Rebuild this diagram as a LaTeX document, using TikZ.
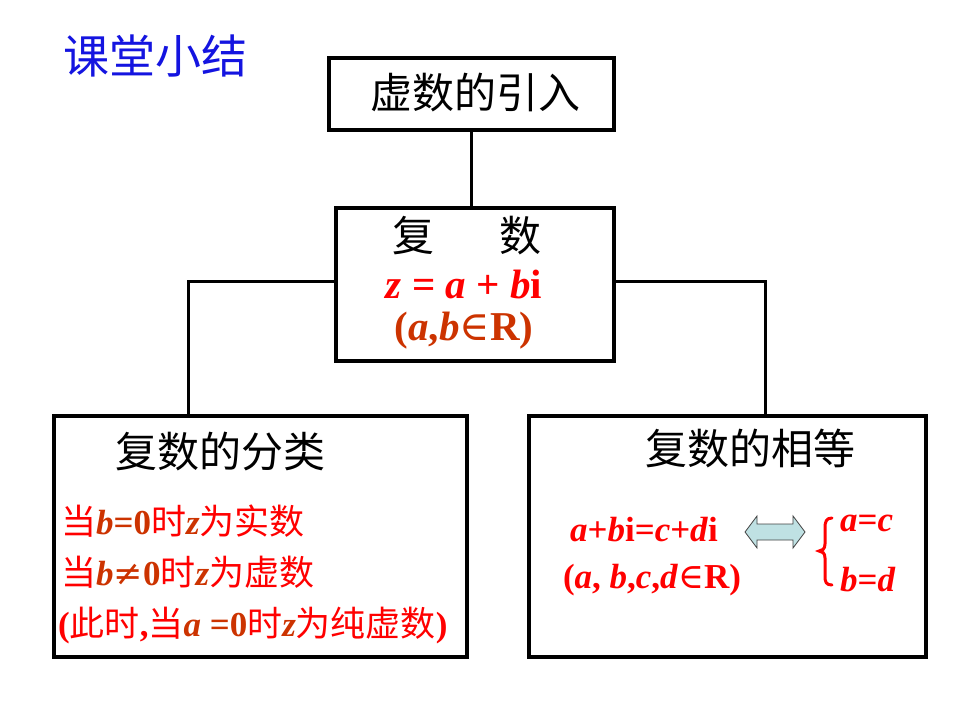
\documentclass[tikz,border=0pt]{standalone}
\usepackage{fontspec}
\setmainfont{Liberation Serif}
\newfontfamily\cjk{Noto Sans CJK SC}
\newfontfamily\djs{DejaVu Serif}
\definecolor{brn}{HTML}{CC3300}
\definecolor{rd}{HTML}{FF0000}
\definecolor{ttl}{HTML}{1414E0}
\definecolor{arrfill}{HTML}{BFE1E3}
\newcommand{\bi}[1]{\textbf{\textit{#1}}}
\newcommand{\elem}{{\djs\mdseries\upshape ∈}}
\newcommand{\nequal}{{\djs\mdseries\upshape ≠}}
\begin{document}
\begin{tikzpicture}[x=1pt,y=-1pt,
  boxs/.style={draw=black,line width=3.5pt},
  conn/.style={draw=black,line width=3pt},
  blab/.style={font=\cjk\fontsize{42}{46}\selectfont,text=black,inner sep=0pt},
  rlab/.style={font=\fontsize{35}{40}\selectfont,text=rd,inner sep=0pt,anchor=west},
  mlab/.style={font=\fontsize{41}{46}\selectfont\bfseries,inner sep=0pt},
  slab/.style={font=\fontsize{35}{40}\selectfont\bfseries,text=rd,inner sep=0pt}]
\useasboundingbox (0,0) rectangle (960,720);
% boxes
\draw[boxs] (329,58) rectangle (614,130);
\draw[boxs] (336,208) rectangle (614,361);
\draw[boxs] (54,416) rectangle (467,657);
\draw[boxs] (529,416) rectangle (926,657);
\coordinate (topb) at (471,130);
\coordinate (midt) at (471,208);
\coordinate (midl) at (336,281);
\coordinate (midr) at (614,281);
\coordinate (lt) at (188,416);
\coordinate (rt) at (765,416);
\draw[conn] (topb) -- (midt);
\draw[conn] (midl) -| (lt);
\draw[conn] (midr) -| (rt);
% title
\node[font=\cjk\fontsize{46}{50}\selectfont,text=ttl,inner sep=0pt] (title) at (155,56) {课堂小结};
\node[blab] (intro) at (475,93) {虚数的引入};
\node[blab] (fu) at (413,236) {复};
\node[blab] (shu) at (520,236) {数};
\node[mlab,text=rd] (zeq) at (464,285) {\textit{z} = \textit{a} + \textit{b}i};
\node[mlab,text=brn] (ab) at (464,331) {(\textit{a},\textit{b}\elem R)};
% left box
\node[blab] (fenlei) at (220,452) {复数的分类};
\node[rlab] (l1) at (61,521) {{\cjk 当}\textcolor{brn}{\bi{b}\textbf{=0}}{\cjk 时}\textcolor{brn}{\bi{z}}{\cjk 为实数}};
\node[rlab] (l2) at (61,572) {{\cjk 当}\textcolor{brn}{\bi{b}\nequal\textbf{0}}{\cjk 时}\textcolor{brn}{\bi{z}}{\cjk 为虚数}};
\node[rlab] (l3) at (58,625) {\textbf{(}{\cjk 此时}\textbf{,}{\cjk 当}\textcolor{brn}{\bi{a} \textbf{=0}}{\cjk 时}\textcolor{brn}{\bi{z}}{\cjk 为纯虚数}\textbf{)}};
% right box
\node[blab] (xiangdeng) at (750,448) {复数的相等};
\node[slab] (eq) at (644,530) {\textit{a}+\textit{b}i=\textit{c}+\textit{d}i};
\node[slab] (abcd) at (652,580) {(\textit{a}, \textit{b},\textit{c},\textit{d}\elem R)};
\draw[draw=black!75,line width=0.8pt,fill=arrfill]
  (745,532) -- (757,516) -- (757,524) -- (793,524) -- (793,516) -- (805,532)
  -- (793,548) -- (793,540) -- (757,540) -- (757,548) -- cycle;
\coordinate (darr) at (775,532);
\node[slab,anchor=west] (ac) at (840,523) {\textit{a}=\textit{c}};
\node[slab,anchor=west] (bd) at (840,580) {\textit{b}=\textit{d}};
\draw[rd,line width=3pt,line cap=round]
  (832,518) .. controls (826,518) and (825,522) .. (825,528) -- (825,544)
  .. controls (825,549) and (822,551) .. (819,551)
  .. controls (822,551) and (825,553) .. (825,558) -- (825,576)
  .. controls (825,582) and (826,585) .. (832,585);
\coordinate (brace) at (825,551);
\end{tikzpicture}
\end{document}
